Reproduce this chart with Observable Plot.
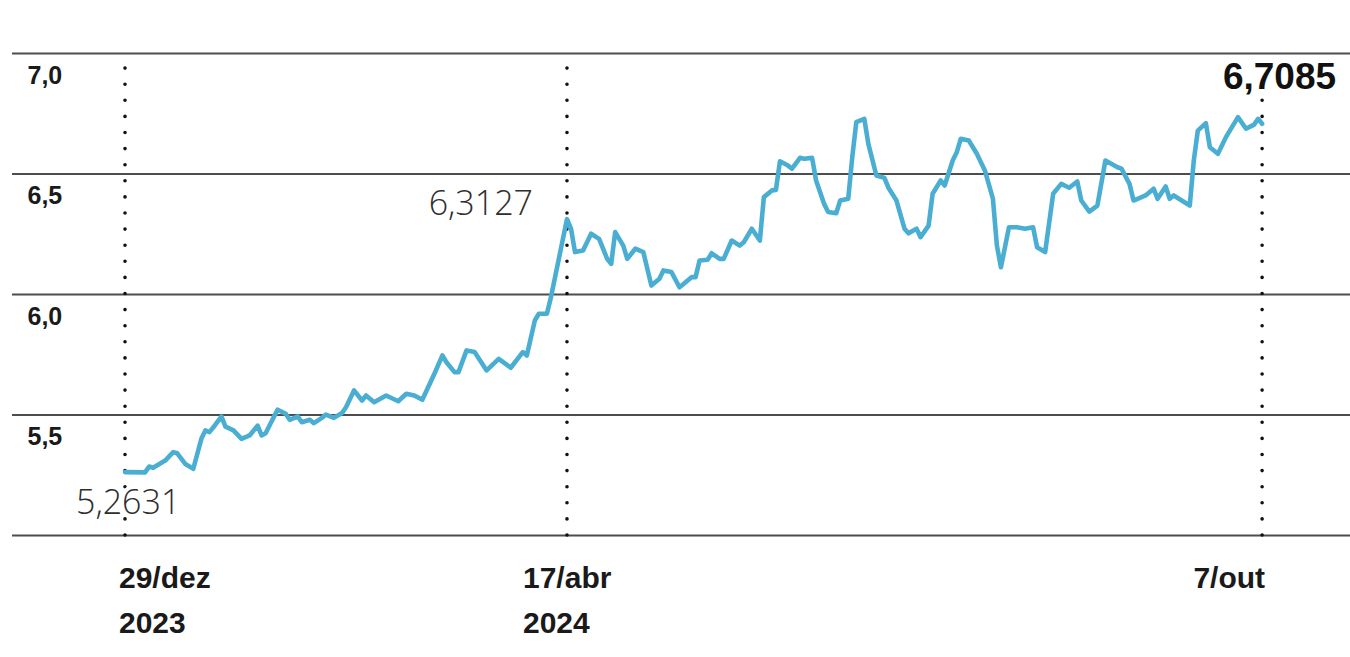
<!DOCTYPE html>
<html lang="pt-BR">
<head>
<meta charset="utf-8">
<title>Cotação</title>
<script src="https://cdn.jsdelivr.net/npm/d3@7"></script>
<script src="https://cdn.jsdelivr.net/npm/@observablehq/plot@0.6"></script>
<style>
  html, body { margin: 0; padding: 0; background: #ffffff; }
  #chart svg { display: block; }
</style>
</head>
<body>
<div id="chart"></div>
<script>
// Daily closing quotes, 29/dez/2023 to 7/out/2024
const dates = [
  "2023-12-29","2024-01-03","2024-01-04","2024-01-05","2024-01-08","2024-01-10","2024-01-11","2024-01-13",
  "2024-01-15","2024-01-17","2024-01-18","2024-01-19","2024-01-20","2024-01-22","2024-01-23","2024-01-25",
  "2024-01-27","2024-01-29","2024-01-31","2024-02-01","2024-02-02","2024-02-04","2024-02-05","2024-02-07",
  "2024-02-08","2024-02-10","2024-02-11","2024-02-13","2024-02-14","2024-02-16","2024-02-17","2024-02-19",
  "2024-02-21","2024-02-22","2024-02-24","2024-02-26","2024-02-27","2024-02-29","2024-03-03","2024-03-06",
  "2024-03-08","2024-03-10","2024-03-12","2024-03-15","2024-03-17","2024-03-18","2024-03-20","2024-03-21",
  "2024-03-23","2024-03-25","2024-03-28","2024-03-31","2024-04-03","2024-04-06","2024-04-07","2024-04-09",
  "2024-04-10","2024-04-12","2024-04-13","2024-04-17","2024-04-18","2024-04-19","2024-04-21","2024-04-23",
  "2024-04-25","2024-04-27","2024-04-28","2024-04-29","2024-05-01","2024-05-02","2024-05-04","2024-05-06",
  "2024-05-08","2024-05-10","2024-05-11","2024-05-13","2024-05-15","2024-05-16","2024-05-18","2024-05-19",
  "2024-05-20","2024-05-22","2024-05-23","2024-05-25","2024-05-26","2024-05-28","2024-05-30","2024-05-31",
  "2024-06-02","2024-06-04","2024-06-05","2024-06-07","2024-06-08","2024-06-09","2024-06-11","2024-06-12",
  "2024-06-14","2024-06-15","2024-06-17","2024-06-18","2024-06-20","2024-06-21","2024-06-23","2024-06-24",
  "2024-06-26","2024-06-27","2024-06-28","2024-06-30","2024-07-01","2024-07-03","2024-07-05","2024-07-06",
  "2024-07-08","2024-07-10","2024-07-11","2024-07-13","2024-07-14","2024-07-16","2024-07-17","2024-07-19",
  "2024-07-20","2024-07-22","2024-07-23","2024-07-24","2024-07-26","2024-07-28","2024-07-30","2024-08-01",
  "2024-08-02","2024-08-03","2024-08-05","2024-08-07","2024-08-09","2024-08-11","2024-08-12","2024-08-14",
  "2024-08-16","2024-08-18","2024-08-20","2024-08-22","2024-08-23","2024-08-25","2024-08-27","2024-08-29",
  "2024-09-01","2024-09-02","2024-09-04","2024-09-05","2024-09-08","2024-09-10","2024-09-11","2024-09-13",
  "2024-09-14","2024-09-15","2024-09-17","2024-09-19","2024-09-20","2024-09-21","2024-09-23","2024-09-24",
  "2024-09-26","2024-09-27","2024-09-28","2024-10-01","2024-10-03","2024-10-05","2024-10-06","2024-10-07"
];
const rates = [
  5.2631, 5.262, 5.286, 5.281, 5.311, 5.346, 5.341, 5.297,
  5.277, 5.401, 5.436, 5.429, 5.449, 5.494, 5.452, 5.436,
  5.401, 5.415, 5.456, 5.415, 5.424, 5.491, 5.522, 5.505,
  5.480, 5.494, 5.470, 5.480, 5.466, 5.488, 5.502, 5.488,
  5.508, 5.532, 5.602, 5.560, 5.581, 5.553, 5.581, 5.557,
  5.588, 5.581, 5.563, 5.671, 5.747, 5.719, 5.678, 5.678,
  5.768, 5.761, 5.685, 5.733, 5.696, 5.761, 5.747, 5.892,
  5.920, 5.920, 5.988, 6.3127, 6.273, 6.176, 6.183, 6.252,
  6.231, 6.148, 6.127, 6.259, 6.203, 6.148, 6.190, 6.176,
  6.037, 6.065, 6.100, 6.093, 6.030, 6.044, 6.072, 6.072,
  6.141, 6.144, 6.171, 6.148, 6.148, 6.224, 6.203, 6.217,
  6.273, 6.224, 6.404, 6.432, 6.434, 6.553, 6.535, 6.522,
  6.567, 6.563, 6.567, 6.473, 6.376, 6.342, 6.337, 6.390,
  6.397, 6.570, 6.715, 6.729, 6.625, 6.494, 6.484, 6.443,
  6.390, 6.273, 6.254, 6.273, 6.238, 6.286, 6.418, 6.473,
  6.452, 6.556, 6.590, 6.646, 6.639, 6.584, 6.515, 6.398,
  6.203, 6.113, 6.279, 6.279, 6.273, 6.279, 6.196, 6.176,
  6.418, 6.459, 6.443, 6.469, 6.390, 6.344, 6.369, 6.556,
  6.528, 6.522, 6.459, 6.390, 6.411, 6.439, 6.397, 6.448,
  6.397, 6.411, 6.390, 6.369, 6.556, 6.680, 6.711, 6.611,
  6.584, 6.618, 6.653, 6.736, 6.688, 6.705, 6.729, 6.7085
];

// Highlighted dates and their quotes
const markerDates = ["2023-12-29", "2024-04-17", "2024-10-07"];
const markerValues = [5.2631, 6.3127, 6.7085];
const markerTickLines = [["29/dez", "2023"], ["17/abr", "2024"], ["7/out"]];

// Horizontal reference levels and the ones that carry a label
const gridLevels = [5, 5.5, 6, 6.5, 7];
const labeledLevels = [5.5, 6, 6.5, 7];

const parse = d3.utcParse("%Y-%m-%d");
const series = dates.map((d, i) => ({date: parse(d), value: rates[i]}));
const markers = markerDates.map((d, i) => ({
  date: parse(d),
  value: markerValues[i],
  tick: markerTickLines[i].join("\n")
}));
const [first, middle, latest] = markers;

const ptBR = d3.formatLocale({decimal: ",", thousands: ".", grouping: [3], currency: ["R$", ""]});
const fmtLevel = ptBR.format(".1f");
const fmtQuote = ptBR.format(".4f");

const boldFont = "'Liberation Sans', Arial, sans-serif";
const lightFont = "'Open Sans', 'Liberation Sans', sans-serif";

// date label below the chart for one highlighted day
const dateLabel = (m, anchor, dx) => Plot.text([m], {
  x: "date", frameAnchor: "bottom", text: "tick",
  textAnchor: anchor, dx, dy: 21, lineAnchor: "top", lineHeight: 1.5,
  fontSize: 30, fontWeight: "bold", fill: "#1a1a1a", fontFamily: boldFont
});

const chart = Plot.plot({
  width: 1350,
  height: 657,
  marginLeft: 12,
  marginRight: 0,
  marginTop: 53,
  marginBottom: 122,
  style: {background: "#ffffff", fontFamily: boldFont},
  x: {type: "utc", domain: [parse("2023-12-01"), parse("2024-10-29")], axis: null},
  y: {domain: [5, 7], axis: null},
  marks: [
    Plot.ruleY(gridLevels, {stroke: "#4d4d4d", strokeWidth: 2}),
    Plot.ruleX(markers, {
      x: "date", y1: 5, y2: 7,
      stroke: "#111111", strokeWidth: 3.6,
      strokeDasharray: "0 16.1", strokeLinecap: "round"
    }),
    Plot.lineY(series, {
      x: "date", y: "value",
      stroke: "#4aaed3", strokeWidth: 4.6,
      strokeLinejoin: "round", strokeLinecap: "round"
    }),
    // level labels under each gridline
    Plot.text(labeledLevels, {
      y: d => d, frameAnchor: "left", text: d => fmtLevel(d),
      dx: 15, dy: 22, textAnchor: "start", lineAnchor: "middle",
      fontSize: 25, fontWeight: "bold", fill: "#1a1a1a", fontFamily: boldFont
    }),
    dateLabel(first, "start", -6),
    dateLabel(middle, "start", -44),
    dateLabel(latest, "end", 3),
    // first quote
    Plot.text([first], {
      x: "date", y: "value", text: d => fmtQuote(d.value),
      textAnchor: "start", lineAnchor: "middle", dx: -49, dy: 31,
      fontSize: 34, fontWeight: 300, fill: "#2e2e2e", fontFamily: lightFont,
      stroke: "#ffffff", strokeWidth: 8
    }),
    // quote on 17/abr
    Plot.text([middle], {
      x: "date", y: "value", text: d => fmtQuote(d.value),
      textAnchor: "end", lineAnchor: "middle", dx: -34, dy: -15,
      fontSize: 34, fontWeight: 300, fill: "#2e2e2e", fontFamily: lightFont
    }),
    // latest quote
    Plot.text([latest], {
      x: "date", y: "value", text: d => fmtQuote(d.value),
      textAnchor: "end", lineAnchor: "middle", dx: 74, dy: -47,
      fontSize: 37, fontWeight: "bold", fill: "#111111", fontFamily: boldFont,
      stroke: "#ffffff", strokeWidth: 8
    })
  ]
});

document.getElementById("chart").append(chart);
</script>
</body>
</html>
